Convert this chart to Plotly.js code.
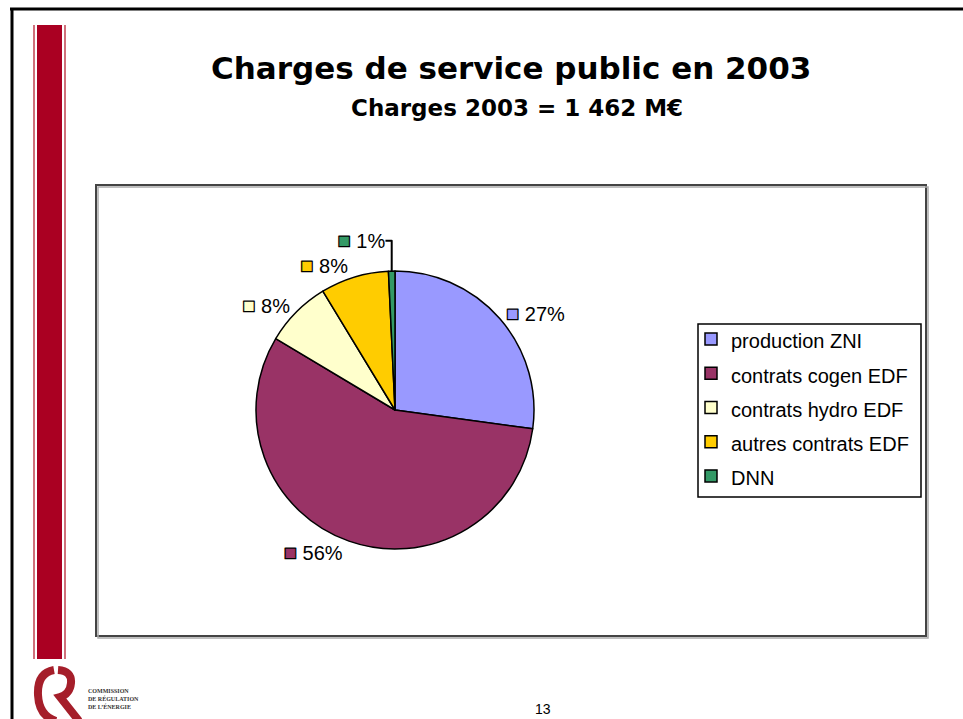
<!DOCTYPE html>
<html>
<head>
<meta charset="utf-8">
<script src="https://cdn.plot.ly/plotly-3.0.1.min.js"></script>
<style>html,body{margin:0;padding:0;background:#fff;}#chart{width:963px;height:719px;}</style>
</head>
<body>
<div id="chart"></div>
<script>
// Data (M€; total 1 462 M€)
const categories = ["production ZNI", "contrats cogen EDF", "contrats hydro EDF", "autres contrats EDF", "DNN"];
const values = [397, 825, 113, 116, 11];
const colors = ["#9999FF", "#993366", "#FFFFCC", "#FFCC00", "#339966"];
const titleText = "Charges de service public en 2003";
const subtitleText = "Charges 2003 = 1 462 M€";

const W = 963, H = 719;
const px = x => x / W;
const py = y => 1 - y / H;
function path(pts) {
  return pts.map(p => p[0] + p.slice(1).map((v, i) => (i % 2 === 0 ? px(v) : py(v)).toFixed(5)).join(',')).join(' ');
}

const trace = {
  type: 'pie',
  labels: categories.map(c => '<span style="font-size:20px">' + c + '</span>'),
  values: values,
  marker: {colors: colors, line: {color: '#000', width: 1.5}},
  sort: false,
  direction: 'clockwise',
  rotation: 0,
  textposition: 'outside',
  texttemplate: colors.map(c => '<span style="font-size:22px;fill:' + c + ';stroke:#000;stroke-width:1.2px">■</span> %{percent:.0%}'),
  textfont: {family: 'Liberation Sans, Arial, sans-serif', size: 20, color: '#000'},
  hoverinfo: 'label+percent',
  domain: {x: [px(256), px(534)], y: [py(549), py(271)]},
  showlegend: true
};

const shapes = [
  // page frame
  {type: 'line', xref: 'paper', yref: 'paper', x0: px(10), x1: px(963), y0: py(9), y1: py(9), line: {color: '#000', width: 3}},
  {type: 'line', xref: 'paper', yref: 'paper', x0: px(12), x1: px(12), y0: py(8), y1: py(719), line: {color: '#000', width: 3}},
  // red bar
  {type: 'rect', xref: 'paper', yref: 'paper', x0: px(37), x1: px(62), y0: py(25), y1: py(659), fillcolor: '#AA0022', line: {width: 0}},
  {type: 'line', xref: 'paper', yref: 'paper', x0: px(34), x1: px(34), y0: py(25), y1: py(659), line: {color: '#C0404F', width: 1.5}},
  {type: 'line', xref: 'paper', yref: 'paper', x0: px(65), x1: px(65), y0: py(25), y1: py(659), line: {color: '#C0404F', width: 1.5}},
  // chart box shadow + box
  {type: 'rect', xref: 'paper', yref: 'paper', x0: px(98), x1: px(928), y0: py(187), y1: py(638), line: {color: '#AAAAAA', width: 1.5}},
  {type: 'rect', xref: 'paper', yref: 'paper', x0: px(96), x1: px(926), y0: py(185), y1: py(636), fillcolor: '#FFFFFF', line: {color: '#444444', width: 2}, layer: 'below'},
  // legend box
  {type: 'rect', xref: 'paper', yref: 'paper', x0: px(698), x1: px(921), y0: py(324), y1: py(497), line: {color: '#000', width: 1.5}},
  // logo "CR"
  {type: 'path', xref: 'paper', yref: 'paper', path: path([['M', 54, 670], ['Q', 37, 673, 38, 695], ['Q', 39, 716, 56, 721]]), line: {color: '#A51E2A', width: 8}},
  {type: 'path', xref: 'paper', yref: 'paper', path: path([['M', 58, 670], ['Q', 72, 671, 71, 683], ['Q', 70, 694, 60, 697], ['L', 79, 721]]), line: {color: '#A51E2A', width: 8}}
];

const annotations = [
  {text: '<b>' + titleText + '</b>', xref: 'paper', yref: 'paper', x: px(511), y: py(68), showarrow: false, xanchor: 'center', yanchor: 'middle',
   font: {family: 'DejaVu Sans, sans-serif', size: 31, color: '#000'}},
  {text: '<b>' + subtitleText + '</b>', xref: 'paper', yref: 'paper', x: px(517), y: py(108), showarrow: false, xanchor: 'center', yanchor: 'middle',
   font: {family: 'DejaVu Sans, sans-serif', size: 23, color: '#000'}},
  {text: '<b>COMMISSION<br>DE RÉGULATION<br>DE L’ÉNERGIE</b>', xref: 'paper', yref: 'paper', x: px(86), y: py(686), showarrow: false, xanchor: 'left', yanchor: 'top', align: 'left',
   font: {family: 'Liberation Serif, serif', size: 6, color: '#333'}},
  {text: '13', xref: 'paper', yref: 'paper', x: px(543), y: py(719), showarrow: false, xanchor: 'center', yanchor: 'bottom',
   font: {family: 'Liberation Sans, Arial, sans-serif', size: 14, color: '#000'}}
];

const layout = {
  width: W, height: H,
  margin: {l: 0, r: 0, t: 0, b: 0},
  paper_bgcolor: '#FFFFFF',
  showlegend: true,
  legend: {
    x: px(691), y: py(317), xanchor: 'left', yanchor: 'top',
    bgcolor: 'rgba(0,0,0,0)', borderwidth: 0,
    font: {family: 'Liberation Sans, Arial, sans-serif', size: 24, color: '#000'}
  },
  shapes: shapes,
  annotations: annotations
};

Plotly.newPlot('chart', [trace], layout, {displayModeBar: false, staticPlot: true});
</script>
</body>
</html>
